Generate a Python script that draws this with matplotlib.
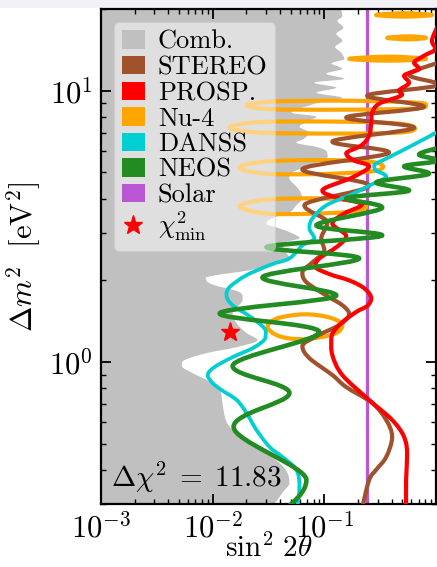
import numpy as np
import matplotlib
matplotlib.use("Agg")
import matplotlib.pyplot as plt
from matplotlib.path import Path
from matplotlib.patches import PathPatch, Patch, Rectangle
from matplotlib.lines import Line2D
from matplotlib.ticker import LogLocator, NullFormatter

plt.rcParams['font.family'] = 'serif'
plt.rcParams['font.serif'] = ['cmr10', 'DejaVu Serif']
plt.rcParams['mathtext.fontset'] = 'cm'
plt.rcParams['axes.unicode_minus'] = False

# ---------------- data (sin^2 2theta, Delta m^2 [eV^2]) ----------------
comb_s2t = [0.136, 0.145, 0.131, 0.148, 0.128, 0.145, 0.125, 0.142, 0.151, 0.116,
            0.145, 0.104, 0.151, 0.081, 0.128, 0.085, 0.145, 0.090, 0.060, 0.051,
            0.085, 0.0735, 0.060, 0.0735, 0.066, 0.056, 0.090, 0.106, 0.104, 0.0735,
            0.051, 0.0487, 0.054, 0.060, 0.0636, 0.056, 0.0487, 0.0336, 0.0303, 0.0396,
            0.0518, 0.060, 0.0422, 0.0439, 0.0487, 0.031, 0.0214, 0.0094, 0.0088, 0.0104,
            0.0174, 0.0185, 0.0164, 0.0151, 0.0164, 0.0201, 0.0252, 0.0164, 0.0088, 0.0056,
            0.0053, 0.0066, 0.0088, 0.01155, 0.0123, 0.0131, 0.0151, 0.0201, 0.0274, 0.0396,
            0.0467, 0.0487, 0.0422, 0.0336]
comb_dm2 = [21.0, 18.9, 18.1, 17.05, 16.2, 15.3, 14.5, 13.8, 13.1, 12.6,
            12.05, 11.55, 11.07, 10.7, 10.26, 9.83, 9.42, 9.04, 8.59, 8.30,
            8.02, 7.76, 7.37, 7.01, 6.66, 6.44, 6.17, 5.92, 5.62, 5.30,
            4.99, 4.75, 4.51, 4.29, 4.01, 3.78, 3.56, 3.38, 3.24, 3.11,
            2.98, 2.86, 2.74, 2.58, 2.41, 2.27, 2.18, 2.07, 2.00, 1.92,
            1.81, 1.69, 1.59, 1.51, 1.39, 1.28, 1.205, 1.135, 1.079, 1.017,
            0.967, 0.911, 0.859, 0.789, 0.695, 0.612, 0.562, 0.517, 0.475, 0.425,
            0.391, 0.359, 0.330, 0.29]

stereo_s2t = [1.18, 0.574, 1.064, 0.242, 0.78, 0.157, 0.637, 0.118, 0.38, 0.0636,
              0.252, 0.0663, 0.1063, 0.094, 0.1, 0.0781, 0.0636, 0.0691, 0.104, 0.145,
              0.167, 0.136, 0.0902, 0.0636, 0.0735, 0.118, 0.157, 0.268, 0.358, 0.405,
              0.358, 0.291, 0.252, 0.218]
stereo_dm2 = [12.89, 11.45, 10.52, 9.58, 8.73, 7.96, 7.31, 6.49, 5.92, 5.13,
              4.47, 3.78, 3.27, 2.86, 2.58, 2.33, 2.14, 1.97, 1.76, 1.62,
              1.50, 1.37, 1.26, 1.145, 1.034, 0.896, 0.809, 0.707, 0.612, 0.53,
              0.447, 0.401, 0.368, 0.29]

prosp_s2t = [1.05, 0.921, 0.99, 0.78, 0.637, 0.705, 0.518, 0.574, 0.467, 0.497,
             0.31, 0.268, 0.263, 0.252, 0.214, 0.157, 0.185, 0.252, 0.178, 0.096,
             0.128, 0.218, 0.151, 0.118, 0.157, 0.128, 0.0902, 0.0831, 0.111, 0.167,
             0.228, 0.263, 0.242, 0.193, 0.136, 0.1155, 0.118, 0.145, 0.252, 0.405,
             0.518, 0.551, 0.54, 0.54]
prosp_dm2 = [17.5, 15.27, 14.27, 13.45, 12.68, 12.05, 11.35, 10.7, 10.0, 9.67,
             8.96, 8.3, 7.63, 6.83, 6.28, 5.87, 5.53, 5.26, 4.79, 4.29,
             4.04, 3.81, 3.53, 3.24, 2.91, 2.65, 2.41, 2.25, 2.11, 2.0,
             1.87, 1.72, 1.61, 1.53, 1.37, 1.225, 1.061, 0.896, 0.725, 0.612,
             0.53, 0.455, 0.368, 0.29]

danss_s2t = [1.18, 0.54, 0.358, 0.2795, 0.291, 0.358, 0.252, 0.167, 0.104, 0.0781,
             0.0735, 0.0814, 0.0636, 0.0487, 0.0336, 0.0201, 0.0142, 0.0133, 0.0151, 0.0214,
             0.0291, 0.0297, 0.0237, 0.0151, 0.0104, 0.00903, 0.01, 0.012, 0.0164, 0.0201,
             0.0247, 0.0323, 0.0422, 0.0562, 0.0598, 0.0574]
danss_dm2 = [7.25, 6.12, 5.62, 5.30, 5.08, 4.83, 4.47, 4.11, 3.78, 3.38,
             3.11, 2.86, 2.69, 2.41, 2.29, 2.09, 1.89, 1.76, 1.62, 1.476,
             1.33, 1.236, 1.135, 1.043, 0.959, 0.896, 0.837, 0.789, 0.725, 0.649,
             0.562, 0.487, 0.447, 0.401, 0.347, 0.29]

neos_s2t = [1.18, 0.705, 1.064, 0.518, 0.866, 0.291, 0.574, 0.157, 0.33, 0.0848,
            0.33, 0.0303, 0.205, 0.0279, 0.128, 0.01155, 0.0902, 0.0151, 0.0487, 0.0154,
            0.0691, 0.0467]
neos_dm2 = [6.23, 5.82, 5.53, 5.26, 4.95, 4.59, 4.29, 4.01, 3.71, 3.19,
            2.93, 2.65, 2.41, 2.05, 1.76, 1.51, 1.29, 0.967, 0.769, 0.577,
            0.368, 0.29]

# Nu-4 allowed islands (closed contours)
nu4_s2t = [
    [0.291, 0.518, 0.921, 0.518],
    [0.365, 0.574, 0.814, 0.574],
    [0.167, 0.38, 0.814, 0.38],
    [0.0201, 0.0323, 0.136, 0.574, 0.814, 0.637, 0.136, 0.0323],
    [0.0142, 0.0263, 0.136, 0.467, 0.649, 0.467, 0.136, 0.0263],
    [0.0174, 0.0291, 0.0902, 0.252, 0.336, 0.263, 0.0902, 0.0291],
    [0.0174, 0.0291, 0.0902, 0.205, 0.237, 0.185, 0.0735, 0.0291],
    [0.031, 0.038, 0.0663, 0.111, 0.145, 0.123, 0.0663, 0.0396],
]
nu4_dm2 = [
    [19.0, 19.3, 19.0, 18.75],
    [15.66, 15.86, 15.66, 15.46],
    [13.1, 13.35, 13.1, 12.9],
    [8.81, 9.11, 9.19, 9.07, 8.88, 8.59, 8.51, 8.55],
    [7.31, 7.66, 7.69, 7.56, 7.25, 7.01, 6.95, 7.01],
    [5.21, 5.48, 5.55, 5.48, 5.26, 5.04, 4.93, 4.95],
    [3.75, 3.96, 4.01, 3.91, 3.75, 3.59, 3.52, 3.53],
    [1.35, 1.45, 1.50, 1.46, 1.37, 1.27, 1.215, 1.245],
]

solar_s2t = 0.242
bestfit_s2t = 0.0142
bestfit_dm2 = 1.29
delta_chi2 = 11.83

xticks = [1e-3, 1e-2, 1e-1]
xticklabels = [r'$10^{-3}$', r'$10^{-2}$', r'$10^{-1}$']
yticks = [1.0, 10.0]
yticklabels = [r'$10^{0}$', r'$10^{1}$']

legend_labels = ['Comb.', 'STEREO', 'PROSP.', 'Nu-4', 'DANSS', 'NEOS', 'Solar']
legend_colors = ['#c0c0c0', '#a0522d', '#ff0000', '#ffa500', '#00ced1', '#228b22', '#ba55d3']


# ------------- smooth curve through the read points (log space) -------------
def smooth_verts(xs, ys, closed=False):
    P = np.column_stack([np.log10(xs), np.log10(ys)])
    n = len(P)
    if closed:
        prev = np.roll(P, 1, axis=0)
        nxt = np.roll(P, -1, axis=0)
    else:
        prev = np.vstack([P[:1], P[:-1]])
        nxt = np.vstack([P[1:], P[-1:]])
    T = (nxt - prev) / 2.0
    ext = (P[:, 0] - prev[:, 0]) * (nxt[:, 0] - P[:, 0]) < 0
    T[ext, 0] = 0.0
    verts = [P[0]]
    codes = [Path.MOVETO]
    nseg = n if closed else n - 1
    for i in range(nseg):
        j = (i + 1) % n
        verts += [P[i] + T[i] / 3.0, P[j] - T[j] / 3.0, P[j]]
        codes += [Path.CURVE4] * 3
    return 10 ** np.array(verts), codes


def curve(ax, xs, ys, color, lw, z, closed=False, alpha=1.0):
    v, c = smooth_verts(xs, ys, closed)
    if closed:
        v = np.vstack([v, v[:1]])
        c = c + [Path.CLOSEPOLY]
    patch = PathPatch(Path(v, c), facecolor='none', edgecolor=color, lw=lw,
                      zorder=z, capstyle='round', joinstyle='round', alpha=alpha)
    ax.add_patch(patch)


fig = plt.figure(figsize=(4.37, 5.67), dpi=100)
fig.add_artist(Rectangle((0, 1 - 8 / 567), 1, 8 / 567, transform=fig.transFigure,
                         facecolor='#f2f2f6', edgecolor='none', zorder=0))
ax = fig.add_axes([101 / 437, 63 / 567, 335 / 437, 495 / 567])
ax.set_xscale('log')
ax.set_yscale('log')

# combined allowed region (grey)
v, c = smooth_verts(comb_s2t, comb_dm2)
x0 = 1e-4
v = np.vstack([[x0, comb_dm2[0]], v, [x0, comb_dm2[-1]], [x0, comb_dm2[0]]])
c = [Path.MOVETO, Path.LINETO] + c[1:] + [Path.LINETO, Path.CLOSEPOLY]
ax.add_patch(PathPatch(Path(v, c), facecolor='#c0c0c0', edgecolor='none', zorder=1))

ax.axvline(solar_s2t, color='#ba55d3', lw=2.3, zorder=2)

for xs, ys in zip(nu4_s2t, nu4_dm2):
    curve(ax, xs, ys, '#ffa500', 3.0, 3, closed=True)
curve(ax, stereo_s2t, stereo_dm2, '#a0522d', 3.0, 3.2)
curve(ax, prosp_s2t, prosp_dm2, '#ff0000', 3.0, 3.4)
curve(ax, danss_s2t, danss_dm2, '#00ced1', 2.7, 3.6)
curve(ax, neos_s2t, neos_dm2, '#228b22', 3.3, 3.8)

ax.plot([bestfit_s2t], [bestfit_dm2], marker='*', color='red', ms=14, ls='none', zorder=6)

ax.text(0.03, 0.034, r'$\Delta\chi^2\;=\;%.2f$' % delta_chi2, transform=ax.transAxes,
        fontsize=21, va='baseline', ha='left', zorder=7)

ax.set_xlim(1e-3, 1.0)
ax.set_ylim(0.3, 20)
ax.set_xticks(xticks)
ax.set_xticklabels(xticklabels)
ax.set_yticks(yticks)
ax.set_yticklabels(yticklabels)
ax.xaxis.set_minor_locator(LogLocator(base=10, subs=np.arange(2, 10)))
ax.yaxis.set_minor_locator(LogLocator(base=10, subs=np.arange(2, 10)))
ax.xaxis.set_minor_formatter(NullFormatter())
ax.yaxis.set_minor_formatter(NullFormatter())
ax.tick_params(which='both', direction='in', top=True, right=True)
ax.tick_params(which='major', length=7, width=1.3, labelsize=22, pad=6)
ax.tick_params(which='minor', length=3.5, width=1.0)
for s in ax.spines.values():
    s.set_linewidth(1.6)

ax.set_xlabel(r'$\sin^2\,2\theta$', fontsize=21, labelpad=-7)
ax.set_ylabel(r'$\Delta m^2\ \ [\mathrm{eV}^2]$', fontsize=22, labelpad=4)

handles = [Patch(facecolor=col, edgecolor='none') for col in legend_colors]
handles.append(Line2D([], [], marker='*', color='red', ls='none', ms=14))
labels = legend_labels + [r'$\chi^2_{\rm min}$']
leg = ax.legend(handles, labels, loc='upper left', fontsize=19, framealpha=0.5,
                labelspacing=0.07, handlelength=0.85, handleheight=0.7,
                handletextpad=0.5, borderpad=0.3, borderaxespad=0.5, fancybox=True)
leg.set_zorder(10)

fig.savefig('out.png', dpi=100)
